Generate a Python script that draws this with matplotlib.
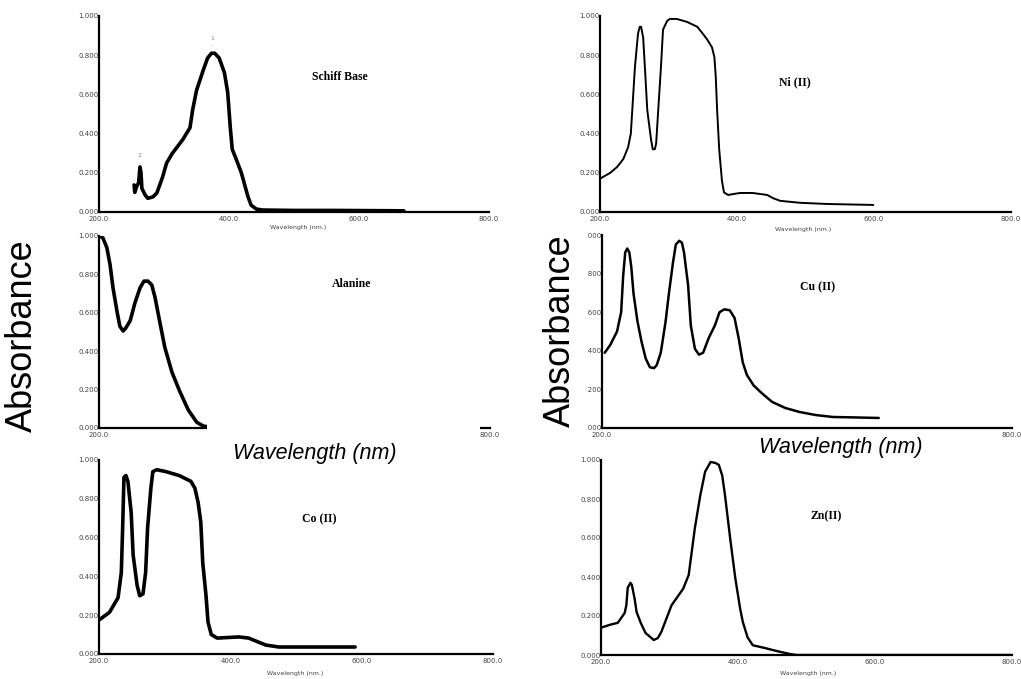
import matplotlib.pyplot as plt
from matplotlib.patches import Rectangle

W, H = 1021, 679

# Datos leídos a ojo de cada espectro (longitud de onda en nm, absorbancia)
schiff_wl = [254, 255, 258, 261, 263, 264.6, 266, 271, 275, 283, 289, 298, 304, 313, 329, 340,
             344, 350, 360, 367, 373, 378, 385, 393, 398, 402, 405, 411, 419, 424, 429, 434,
             442, 452, 500, 560, 620, 669]
schiff_abs = [0.138, 0.10, 0.13, 0.15, 0.23, 0.20, 0.12, 0.087, 0.07, 0.077, 0.097, 0.18, 0.25, 0.30, 0.37, 0.43,
              0.52, 0.62, 0.72, 0.785, 0.81, 0.81, 0.785, 0.71, 0.61, 0.43, 0.32, 0.27, 0.20, 0.14, 0.08, 0.035,
              0.015, 0.01, 0.008, 0.008, 0.007, 0.006]

ni_wl = [200, 215, 225, 234, 241, 245, 248, 251, 255.5, 258, 260, 263, 266, 269, 274.5, 277,
         280, 282, 285, 289, 292, 298, 302, 312, 327, 342, 350, 356.5, 363.5, 367, 369, 371,
         374, 378, 381, 387, 404, 423, 444, 453, 463, 492, 531, 599]
ni_abs = [0.17, 0.20, 0.23, 0.27, 0.33, 0.40, 0.57, 0.74, 0.91, 0.945, 0.945, 0.89, 0.71, 0.52, 0.37, 0.32,
          0.32, 0.35, 0.52, 0.74, 0.93, 0.975, 0.985, 0.985, 0.97, 0.945, 0.91, 0.88, 0.84, 0.79, 0.69, 0.52,
          0.32, 0.16, 0.10, 0.087, 0.097, 0.097, 0.087, 0.07, 0.057, 0.047, 0.041, 0.036]

ala_wl = [201, 206, 212, 217, 221.5, 228, 232, 237, 241, 248, 255, 263, 269, 275, 281, 286,
          294, 301, 312, 324, 337, 350, 360, 380]
ala_abs = [1.0, 0.99, 0.94, 0.85, 0.73, 0.60, 0.53, 0.505, 0.52, 0.56, 0.65, 0.73, 0.765, 0.765, 0.745, 0.68,
           0.54, 0.42, 0.29, 0.19, 0.094, 0.03, 0.01, 0.0]

cu_wl = [204, 212, 222, 228, 231, 234, 237, 240, 243, 246, 252, 258, 264, 270, 276, 280,
         286, 293, 298, 304, 308, 313, 317, 320, 326, 330, 336, 342, 348, 356, 365, 372,
         379, 387, 394, 400, 406, 412, 422, 434, 449, 468, 489, 513, 538, 567, 605]
cu_abs = [0.39, 0.43, 0.50, 0.60, 0.79, 0.91, 0.93, 0.91, 0.83, 0.70, 0.55, 0.445, 0.36, 0.315, 0.31, 0.325,
          0.39, 0.55, 0.70, 0.86, 0.95, 0.97, 0.96, 0.91, 0.74, 0.53, 0.41, 0.38, 0.39, 0.465, 0.53, 0.60,
          0.615, 0.61, 0.57, 0.465, 0.34, 0.275, 0.22, 0.18, 0.135, 0.104, 0.083, 0.067, 0.057, 0.055, 0.052]

co_wl = [200, 216, 229, 234, 236, 238, 241, 244, 249, 252, 258, 262, 267, 271, 274, 279,
         282, 288, 302, 322, 340, 346, 351, 355, 358, 363, 366, 371, 380, 413, 428, 454,
         474, 520, 590]
co_abs = [0.175, 0.215, 0.29, 0.42, 0.65, 0.91, 0.92, 0.89, 0.73, 0.51, 0.355, 0.30, 0.31, 0.42, 0.65, 0.855,
          0.94, 0.95, 0.94, 0.92, 0.89, 0.855, 0.78, 0.68, 0.47, 0.30, 0.165, 0.10, 0.082, 0.088, 0.082, 0.046,
          0.036, 0.036, 0.036]

zn_wl = [200, 213, 224.5, 234.5, 237, 239, 243, 245, 249, 252, 258, 265, 277, 283, 288, 303,
         320, 328, 337, 345, 352, 360, 367, 372, 377, 381, 388.5, 396, 403, 407, 414, 421.6,
         439, 457, 476, 486, 600, 700, 800]
zn_abs = [0.14, 0.155, 0.165, 0.215, 0.255, 0.345, 0.37, 0.36, 0.29, 0.22, 0.165, 0.113, 0.077, 0.087, 0.118, 0.255,
          0.34, 0.41, 0.65, 0.82, 0.94, 0.99, 0.985, 0.975, 0.92, 0.82, 0.60, 0.395, 0.24, 0.17, 0.09, 0.05,
          0.036, 0.02, 0.005, 0.0, 0.0, 0.0, 0.0]

y_ticks = [0.0, 0.2, 0.4, 0.6, 0.8, 1.0]
y_labels = ['0.000', '0.200', '0.400', '0.600', '0.800', '1.000']
x_ticks = [200, 400, 600, 800]
x_labels = ['200.0', '400.0', '600.0', '800.0']

fig = plt.figure(figsize=(W / 100, H / 100), dpi=100)


def panel(x0, x800, ytop, ybot, wl, ab, lw, name, name_xy):
    # Posición en píxeles convertida a fracción de figura
    ax = fig.add_axes([x0 / W, 1 - ybot / H, (x800 - x0) / W, (ybot - ytop) / H])
    ax.plot(wl, ab, color='black', lw=lw, solid_joinstyle='round', solid_capstyle='round')
    ax.set_xlim(200, 800)
    ax.set_ylim(0, 1.0)
    for s in ['top', 'right']:
        ax.spines[s].set_visible(False)
    for s in ['left', 'bottom']:
        ax.spines[s].set_linewidth(1.6)
    ax.set_yticks(y_ticks, y_labels)
    ax.set_xticks(x_ticks, x_labels)
    ax.tick_params(axis='y', length=0, pad=0.5, labelsize=5, labelcolor='#444444')
    ax.tick_params(axis='x', length=0, pad=3, labelsize=5, labelcolor='#444444')
    ax.patch.set_alpha(0)
    fig.text(name_xy[0] / W, 1 - name_xy[1] / H, name, family='Liberation Serif',
             weight='bold', fontsize=8.5, ha='center', va='center')
    return ax


ax1 = panel(99, 489, 16, 212, schiff_wl, schiff_abs, 2.6, 'Schiff Base', (340, 77))
ax2 = panel(600, 1011, 16, 212, ni_wl, ni_abs, 1.4, 'Ni (II)', (795, 82))
ax3 = panel(99, 490, 236, 428, ala_wl, ala_abs, 2.6, 'Alanine', (352, 284))
ax4 = panel(602, 1012, 235, 428, cu_wl, cu_abs, 1.8, 'Cu (II)', (818, 287))
ax5 = panel(99, 493, 460, 654, co_wl, co_abs, 2.6, 'Co (II)', (319, 519))
ax6 = panel(601, 1012, 460, 655, zn_wl, zn_abs, 1.7, 'Zn(II)', (826, 516))

# Marcas de picos del espectro de la base de Schiff
ax1.annotate('1', (375, 0.83), xytext=(375, 0.88), fontsize=4.5, color='#888888', ha='center',
             arrowprops=dict(arrowstyle='-', color='#aaaaaa', lw=0.6))
ax1.annotate('2', (263, 0.245), xytext=(263, 0.28), fontsize=4.5, color='#888888', ha='center',
             arrowprops=dict(arrowstyle='-', color='#aaaaaa', lw=0.6))

# Etiquetas pequeñas originales del eje x
for x, y in [(298, 228), (803, 229), (295, 674), (808, 674)]:
    fig.text(x / W, 1 - y / H, 'Wavelength (nm.)', fontsize=4.5, color='#444444', ha='center', va='center')

# Parches blancos que tapan el eje x de los paneles centrales
for x0, x1, y0, y1 in [(207, 480, 424, 459), (729, 997, 431, 457)]:
    fig.add_artist(Rectangle((x0 / W, 1 - y1 / H), (x1 - x0) / W, (y1 - y0) / H,
                             transform=fig.transFigure, facecolor='white', edgecolor='none', zorder=5))

fig.text(315 / W, 1 - 453 / H, 'Wavelength (nm)', fontsize=15.5, style='italic',
         family='Liberation Sans', ha='center', va='center', zorder=6)
fig.text(841 / W, 1 - 447 / H, 'Wavelength (nm)', fontsize=15.5, style='italic',
         family='Liberation Sans', ha='center', va='center', zorder=6)

fig.text(22 / W, 1 - 336 / H, 'Absorbance', fontsize=26, rotation=90, family='Liberation Sans',
         ha='center', va='center', zorder=6)
fig.text(560 / W, 1 - 331 / H, 'Absorbance', fontsize=26, rotation=90, family='Liberation Sans',
         ha='center', va='center', zorder=6,
         bbox=dict(boxstyle='square,pad=0.3', facecolor='white', edgecolor='none'))

fig.savefig('out.png', dpi=100)
